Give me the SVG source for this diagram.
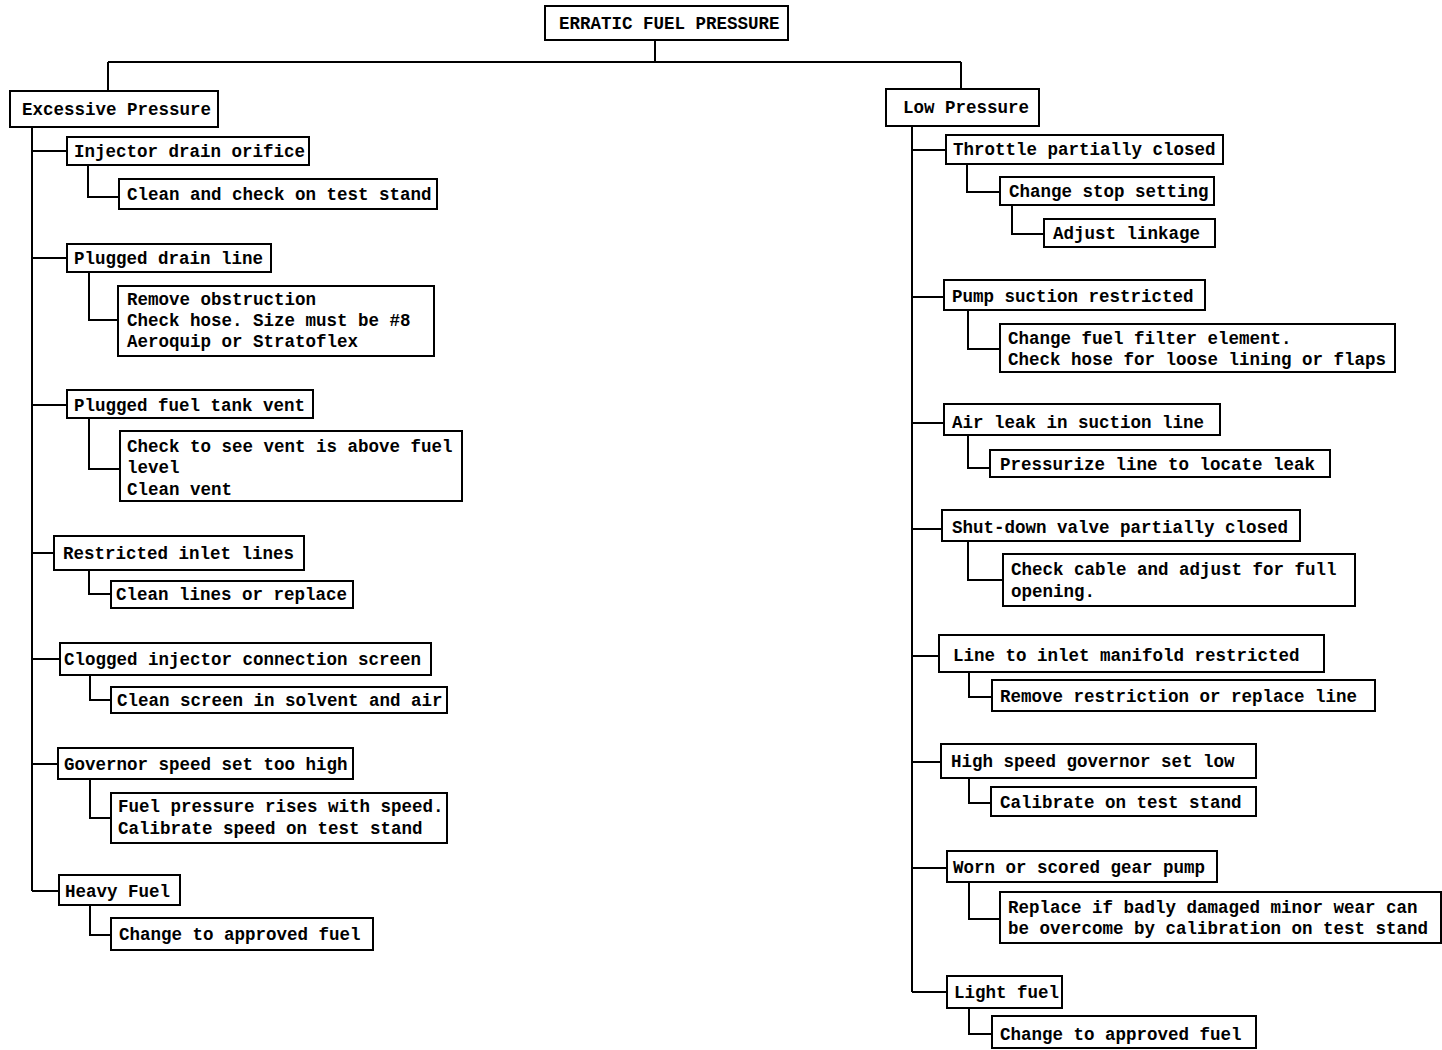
<svg xmlns="http://www.w3.org/2000/svg" width="1442" height="1050" viewBox="0 0 1442 1050">
<style>
.box{fill:#fff;stroke:#000;stroke-width:2}
.t{font-family:"Liberation Mono","DejaVu Sans Mono",monospace;font-weight:bold;font-size:17.5px;fill:#000}
.c{fill:none;stroke:#000;stroke-width:2}
</style>
<rect x="0" y="0" width="1442" height="1050" fill="#fff"/>
<g id="connectors">
<path class="c" d="M655 40V62M108 62H961M108 62V92M961 62V89"/>
<path class="c" d="M32 127V891"/>
<path class="c" d="M32 151H67M88 165V197H119"/>
<path class="c" d="M32 258H67M89 272V320H118"/>
<path class="c" d="M32 405H67M89 418V469H120"/>
<path class="c" d="M32 553H54M89 570V594H111"/>
<path class="c" d="M32 659H60M90 675V700H111"/>
<path class="c" d="M32 764H58M90 779V818H111"/>
<path class="c" d="M32 891H59M90 905V935H111"/>
<path class="c" d="M912 126V992"/>
<path class="c" d="M912 150H946M967 164V192H1000M1012 205V234H1044"/>
<path class="c" d="M912 297H944M968 310V349H1000"/>
<path class="c" d="M912 423H944M968 435V468H990"/>
<path class="c" d="M912 529H942M968 541V580H1003"/>
<path class="c" d="M912 656H939M969 672V697H992"/>
<path class="c" d="M912 762H941M969 778V803H991"/>
<path class="c" d="M912 868H947M969 882V919H1000"/>
<path class="c" d="M912 992H947M969 1008V1034H992"/>
</g>
<g id="root"><rect class="box" x="545" y="6" width="243" height="34"/><text class="t" x="559" y="29">ERRATIC FUEL PRESSURE</text></g>
<g id="excessive"><rect class="box" x="10" y="91" width="208" height="36"/><text class="t" x="22" y="115">Excessive Pressure</text></g>
<g id="e1"><rect class="box" x="67" y="137" width="242" height="28"/><text class="t" x="74" y="157">Injector drain orifice</text></g>
<g id="e1a"><rect class="box" x="119" y="179" width="318" height="30"/><text class="t" x="127" y="200">Clean and check on test stand</text></g>
<g id="e2"><rect class="box" x="67" y="244" width="204" height="28"/><text class="t" x="74" y="264">Plugged drain line</text></g>
<g id="e2a"><rect class="box" x="118" y="286" width="316" height="70"/><text class="t" x="127" y="305">Remove obstruction</text><text class="t" x="127" y="326">Check hose.  Size must be #8</text><text class="t" x="127" y="347">Aeroquip or Stratoflex</text></g>
<g id="e3"><rect class="box" x="67" y="390" width="246" height="28"/><text class="t" x="74" y="411">Plugged fuel tank vent</text></g>
<g id="e3a"><rect class="box" x="120" y="431" width="342" height="70"/><text class="t" x="127" y="452">Check to see vent is above fuel</text><text class="t" x="127" y="473">level</text><text class="t" x="127" y="495">Clean vent</text></g>
<g id="e4"><rect class="box" x="54" y="536" width="250" height="34"/><text class="t" x="63" y="559">Restricted inlet lines</text></g>
<g id="e4a"><rect class="box" x="111" y="581" width="242" height="27"/><text class="t" x="116" y="600">Clean lines or replace</text></g>
<g id="e5"><rect class="box" x="60" y="643" width="371" height="32"/><text class="t" x="64" y="665">Clogged injector connection screen</text></g>
<g id="e5a"><rect class="box" x="111" y="687" width="336" height="26"/><text class="t" x="117" y="706">Clean screen in solvent and air</text></g>
<g id="e6"><rect class="box" x="58" y="748" width="295" height="31"/><text class="t" x="64" y="770">Governor speed set too high</text></g>
<g id="e6a"><rect class="box" x="111" y="793" width="336" height="50"/><text class="t" x="118" y="812">Fuel pressure rises with speed.</text><text class="t" x="118" y="834">Calibrate speed on test stand</text></g>
<g id="e7"><rect class="box" x="59" y="875" width="121" height="30"/><text class="t" x="65" y="897">Heavy Fuel</text></g>
<g id="e7a"><rect class="box" x="111" y="918" width="262" height="32"/><text class="t" x="119" y="940">Change to approved fuel</text></g>
<g id="low"><rect class="box" x="886" y="89" width="153" height="37"/><text class="t" x="903" y="113">Low Pressure</text></g>
<g id="l1"><rect class="box" x="946" y="135" width="277" height="29"/><text class="t" x="953" y="155">Throttle partially closed</text></g>
<g id="l1a"><rect class="box" x="1000" y="177" width="214" height="28"/><text class="t" x="1009" y="197">Change stop setting</text></g>
<g id="l1b"><rect class="box" x="1044" y="219" width="171" height="28"/><text class="t" x="1053" y="239">Adjust linkage</text></g>
<g id="l2"><rect class="box" x="944" y="280" width="261" height="30"/><text class="t" x="952" y="302">Pump suction restricted</text></g>
<g id="l2a"><rect class="box" x="1000" y="324" width="395" height="48"/><text class="t" x="1008" y="344">Change fuel filter element.</text><text class="t" x="1008" y="365">Check hose for loose lining or flaps</text></g>
<g id="l3"><rect class="box" x="944" y="404" width="276" height="31"/><text class="t" x="952" y="428">Air leak in suction line</text></g>
<g id="l3a"><rect class="box" x="990" y="450" width="340" height="27"/><text class="t" x="1000" y="470">Pressurize line to locate leak</text></g>
<g id="l4"><rect class="box" x="942" y="510" width="358" height="31"/><text class="t" x="952" y="533">Shut-down valve partially closed</text></g>
<g id="l4a"><rect class="box" x="1003" y="554" width="352" height="52"/><text class="t" x="1011" y="575">Check cable and adjust for full</text><text class="t" x="1011" y="597">opening.</text></g>
<g id="l5"><rect class="box" x="939" y="635" width="385" height="37"/><text class="t" x="953" y="661">Line to inlet manifold restricted</text></g>
<g id="l5a"><rect class="box" x="992" y="680" width="383" height="31"/><text class="t" x="1000" y="702">Remove restriction or replace line</text></g>
<g id="l6"><rect class="box" x="941" y="744" width="315" height="34"/><text class="t" x="951" y="767">High speed governor set low</text></g>
<g id="l6a"><rect class="box" x="991" y="787" width="265" height="29"/><text class="t" x="1000" y="808">Calibrate on test stand</text></g>
<g id="l7"><rect class="box" x="947" y="851" width="270" height="31"/><text class="t" x="953" y="873">Worn or scored gear pump</text></g>
<g id="l7a"><rect class="box" x="1000" y="892" width="441" height="51"/><text class="t" x="1008" y="913">Replace if badly damaged minor wear can</text><text class="t" x="1008" y="934">be overcome by calibration on test stand</text></g>
<g id="l8"><rect class="box" x="947" y="976" width="115" height="32"/><text class="t" x="954" y="998">Light fuel</text></g>
<g id="l8a"><rect class="box" x="992" y="1016" width="264" height="32"/><text class="t" x="1000" y="1040">Change to approved fuel</text></g>
</svg>
